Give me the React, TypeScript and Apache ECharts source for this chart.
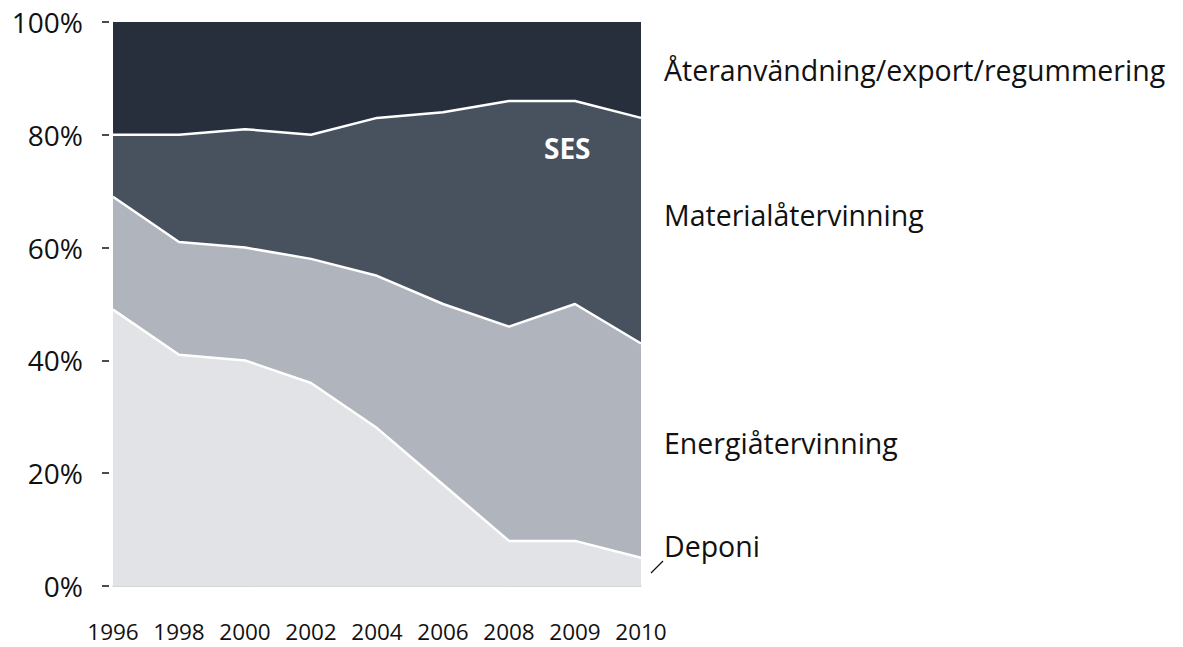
import React, { useEffect, useRef } from "react";
import * as echarts from "echarts";

const years = ["1996", "1998", "2000", "2002", "2004", "2006", "2008", "2009", "2010"];
const deponi = [49, 41, 40, 36, 28, 18, 8, 8, 5];
const energi = [20, 20, 20, 22, 27, 32, 38, 42, 38];
const material = [11, 19, 21, 22, 28, 34, 40, 36, 40];
const ateranv = [20, 20, 19, 20, 17, 16, 14, 14, 17];

const seriesNames = ["Deponi", "Energiåtervinning", "Materialåtervinning", "Återanvändning/export/regummering"];
const colors = ["#e2e3e7", "#b0b4bc", "#48525f", "#262f3b"];

const FONT = "'Open Sans', 'Noto Sans', sans-serif";

export default function App() {
  const ref = useRef<HTMLDivElement>(null);
  useEffect(() => {
    if (!ref.current) return;
    const chart = echarts.init(ref.current, undefined, { renderer: "svg" });
    const datas = [deponi, energi, material, ateranv];
    const label = (text: string, y: number) => ({
      type: "text",
      x: 664,
      y,
      z: 100,
      style: { text, fontSize: 28.5, fill: "#111", fontFamily: FONT, verticalAlign: "middle", align: "left" },
    });
    chart.setOption({
      animation: false,
      textStyle: { fontFamily: FONT },
      grid: { left: 113, right: 542, top: 22, bottom: 61 },
      xAxis: {
        type: "category",
        data: years,
        boundaryGap: false,
        axisLine: { show: true, lineStyle: { color: "#c8c8c8", width: 1.5 } },
        axisTick: { show: false },
        axisLabel: { color: "#111", fontSize: 22.5, margin: 33, lineHeight: 24, interval: 0, hideOverlap: false, fontFamily: FONT },
        splitLine: { show: false },
      },
      yAxis: [
        {
          type: "value",
          min: 0,
          max: 100,
          interval: 20,
          offset: 4,
          axisLine: { show: false },
          axisTick: { show: true, length: 7, lineStyle: { color: "#111", width: 1.5 } },
          axisLabel: { color: "#111", fontSize: 28, margin: 26, formatter: "{value}%", fontFamily: FONT },
          splitLine: { show: false },
        },
        {
          type: "value",
          position: "left",
          min: 0,
          max: 100,
          interval: 20,
          offset: 0,
          axisLine: { show: true, lineStyle: { color: "#d4d4d4", width: 1 } },
          axisTick: { show: false },
          axisLabel: { show: false },
          splitLine: { show: false },
        },
      ],
      series: datas.map((d, i) => ({
        name: seriesNames[i],
        type: "line",
        stack: "total",
        data: d,
        symbol: "none",
        lineStyle: { color: i === 3 ? "transparent" : "#ffffff", width: i === 3 ? 0 : 2.5 },
        areaStyle: { color: colors[i], opacity: 1 },
        z: 3,
      })),
      graphic: [
        label("Återanvändning/export/regummering", 70),
        label("Materialåtervinning", 215),
        label("Energiåtervinning", 443),
        label("Deponi", 546),
        { type: "line", z: 100, shape: { x1: 651, y1: 573, x2: 663, y2: 561 }, style: { stroke: "#111", lineWidth: 1.2 } },
        {
          type: "text",
          x: 544,
          y: 148,
          z: 100,
          style: { text: "SES", fontSize: 28, fontWeight: "bold", fill: "#ffffff", fontFamily: FONT, verticalAlign: "middle", align: "left" },
        },
      ],
    });
    return () => chart.dispose();
  }, []);
  return <div ref={ref} style={{ width: 1183, height: 647, position: "absolute", left: 0, top: 0 }} />;
}
